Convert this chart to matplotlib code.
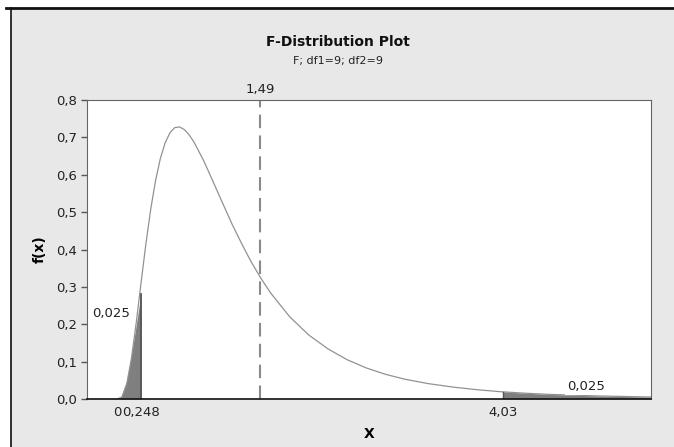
import matplotlib.pyplot as plt
from matplotlib.patches import Rectangle
from matplotlib.lines import Line2D

# density curve, F(9, 9)
x_vals = [0.0, 0.05, 0.1, 0.15, 0.2, 0.25, 0.3, 0.35, 0.4, 0.45, 0.5, 0.55,
          0.6, 0.65, 0.7, 0.75, 0.8, 0.9, 1.0, 1.1, 1.2, 1.3, 1.4, 1.5, 1.6,
          1.8, 2.0, 2.2, 2.4, 2.6, 2.8, 3.0, 3.25, 3.5, 3.75, 4.0, 4.25, 4.5,
          5.0, 5.5, 5.6]
fx_vals = [0.0, 0.0054, 0.040, 0.111, 0.207, 0.313, 0.416, 0.508, 0.584,
           0.643, 0.685, 0.712, 0.726, 0.728, 0.721, 0.707, 0.688, 0.639,
           0.582, 0.524, 0.467, 0.415, 0.366, 0.323, 0.284, 0.220, 0.171,
           0.134, 0.105, 0.083, 0.066, 0.053, 0.041, 0.032, 0.025, 0.0195,
           0.0156, 0.0125, 0.0083, 0.0056, 0.0052]

# shaded tails
left_x = [0.03, 0.1, 0.15, 0.2, 0.248]
left_y = [0.0, 0.05, 0.12, 0.2, 0.28]
right_x = [4.03, 4.25, 4.5, 5.0, 5.5, 5.6]
right_y = [0.019, 0.0156, 0.0125, 0.0083, 0.0056, 0.0052]

lower_crit = 0.248
upper_crit = 4.03
ref_line = 1.49
tail_area = '0,025'

y_ticks = [0.0, 0.1, 0.2, 0.3, 0.4, 0.5, 0.6, 0.7, 0.8]
y_labels = [f'{v:.1f}'.replace('.', ',') for v in y_ticks]
x_ticks = [0.0, lower_crit, upper_crit]
x_labels = ['0', '0,248', '4,03']

fig = plt.figure(figsize=(6.74, 4.47), dpi=100)
fig.patch.set_facecolor('white')

# grey panel with black top/left border
fig.add_artist(Rectangle((11 / 674, 0), 1, 1 - 9 / 447, transform=fig.transFigure,
                         facecolor='#e8e8e8', edgecolor='none', zorder=0))
fig.add_artist(Line2D([6 / 674, 1], [1 - 8 / 447] * 2, transform=fig.transFigure,
                      color='#111111', lw=2))
fig.add_artist(Line2D([10.5 / 674] * 2, [0, 1 - 8 / 447], transform=fig.transFigure,
                      color='#111111', lw=1.2))

ax = fig.add_axes([87 / 674, 1 - 399 / 447, (651 - 87) / 674, (399 - 100) / 447])
ax.set_facecolor('white')

ax.plot(x_vals, fx_vals, color='#929292', lw=0.9)
ax.fill_between(left_x, left_y, color='#7f7f7f', lw=0)
ax.plot([lower_crit, lower_crit], [0, left_y[-1]], color='#555555', lw=1.3)
ax.fill_between(right_x, right_y, color='#7f7f7f', lw=0)
ax.plot([upper_crit, upper_crit], [0, right_y[0]], color='#555555', lw=1.0)
ax.axvline(ref_line, color='#8a8a8a', lw=1.5, dashes=(6.5, 3.5))

ax.set_xlim(-0.315, 5.57)
ax.set_ylim(0, 0.8)
ax.set_yticks(y_ticks)
ax.set_yticklabels(y_labels)
ax.set_xticks(x_ticks)
ax.set_xticklabels(x_labels)
ax.tick_params(axis='x', length=0, pad=5, labelsize=9.5, colors='#222222')
ax.tick_params(axis='y', length=4, width=1, color='#555555', labelsize=9.5,
               labelcolor='#222222', pad=3)

for side in ['top', 'right', 'left']:
    ax.spines[side].set_color('#666666')
ax.spines['bottom'].set_color('#111111')
ax.spines['bottom'].set_linewidth(1.2)

ax.text(-0.065, 0.23, tail_area, ha='center', va='center', fontsize=9.5,
        color='#222222')
ax.text(4.89, 0.033, tail_area, ha='center', va='center', fontsize=9.5,
        color='#222222', bbox=dict(facecolor='white', edgecolor='none', pad=1))
ax.text(ref_line, 1.015, '1,49', transform=ax.get_xaxis_transform(),
        ha='center', va='bottom', fontsize=9.5, color='#222222')

ax.set_xlabel('X', fontsize=10, fontweight='bold', labelpad=6)
ax.set_ylabel('f(x)', fontsize=10, fontweight='bold', labelpad=7)

fig.text(338 / 674, 1 - 42 / 447, 'F-Distribution Plot', ha='center', va='center',
         fontsize=10, fontweight='bold', color='#111111')
fig.text(338 / 674, 1 - 61 / 447, 'F; df1=9; df2=9', ha='center', va='center',
         fontsize=8, color='#222222')

plt.savefig('out.png', dpi=100, facecolor=fig.get_facecolor())
